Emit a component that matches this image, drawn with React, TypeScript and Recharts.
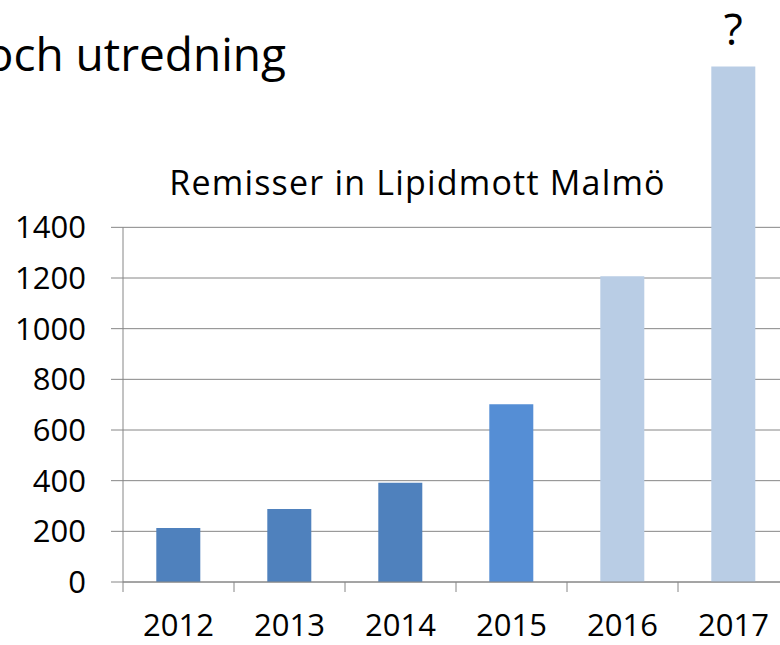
import React from 'react';
import { BarChart, Bar, XAxis, YAxis, CartesianGrid, Cell, LabelList, ReferenceLine } from 'recharts';

const years = ['2012', '2013', '2014', '2015', '2016', '2017'];
const remisser = [213, 288, 392, 702, 1207, 2035];
const notes = ['', '', '', '', '', '?'];
const barColors = ['#4F81BD', '#4F81BD', '#4F81BD', '#558ED5', '#B9CDE5', '#B9CDE5'];
const yTicks = [0, 200, 400, 600, 800, 1000, 1200, 1400];
const chartTitle = 'Remisser in Lipidmott Malmö';
const slideTitle = 'och utredning';

const data = years.map((y, i) => ({ year: y, value: remisser[i], note: notes[i] }));

const FONT = '"Open Sans", "Noto Sans", sans-serif';
const GRAY = '#868686';

const XTick = (props: any) => {
  const { x, y, payload } = props;
  const off = payload && payload.offset != null ? payload.offset : 0;
  return (
    <g>
      <line x1={x - off} x2={x - off} y1={y - 10} y2={y} stroke={GRAY} strokeWidth={1} />
      <text x={x} y={y + 44} textAnchor="middle" fontFamily={FONT} fontSize={31} fill="#000">
        {payload.value}
      </text>
    </g>
  );
};

export default function App() {
  return (
    <div style={{ position: 'fixed', left: 0, top: 0, width: 780, height: 645, overflow: 'hidden', background: '#fff' }}>
      <BarChart
        width={800}
        height={645}
        data={data}
        margin={{ top: 50, right: 11, left: 0, bottom: 0 }}
        barCategoryGap="30%"
      >
        <CartesianGrid vertical={false} horizontalValues={yTicks} stroke={GRAY} strokeWidth={1} />
        <XAxis
          dataKey="year"
          height={63}
          axisLine={{ stroke: GRAY, strokeWidth: 1 }}
          tickLine={false}
          tickSize={10}
          tickMargin={0}
          tick={<XTick />}
          interval={0}
        />
        <YAxis
          width={123}
          domain={[0, 2100]}
          ticks={yTicks}
          axisLine={false}
          tickLine={{ stroke: GRAY, strokeWidth: 1 }}
          tickSize={12}
          tickMargin={25}
          tick={{ fontFamily: FONT, fontSize: 31, fill: '#000' }}
          interval={0}
        />
        <ReferenceLine
          segment={[{ x: years[0], y: 0 }, { x: years[0], y: 1400 }]}
          position="start"
          stroke={GRAY}
          strokeWidth={1}
          ifOverflow="visible"
        />
        <Bar dataKey="value" isAnimationActive={false}>
          {data.map((d, i) => (
            <Cell key={d.year} fill={barColors[i]} />
          ))}
          <LabelList dataKey="note" position="top" offset={21} fontFamily={FONT} fontSize={44} fill="#000" />
        </Bar>
      </BarChart>
      <svg width={780} height={645} style={{ position: 'absolute', left: 0, top: 0, pointerEvents: 'none' }}>
        <text x={286} y={71} textAnchor="end" fontFamily={FONT} fontSize={46} fill="#000">
          {slideTitle}
        </text>
        <text x={417.5} y={195} textAnchor="middle" fontFamily={FONT} fontSize={34} letterSpacing={1.2} fill="#000">
          {chartTitle}
        </text>
      </svg>
    </div>
  );
}
